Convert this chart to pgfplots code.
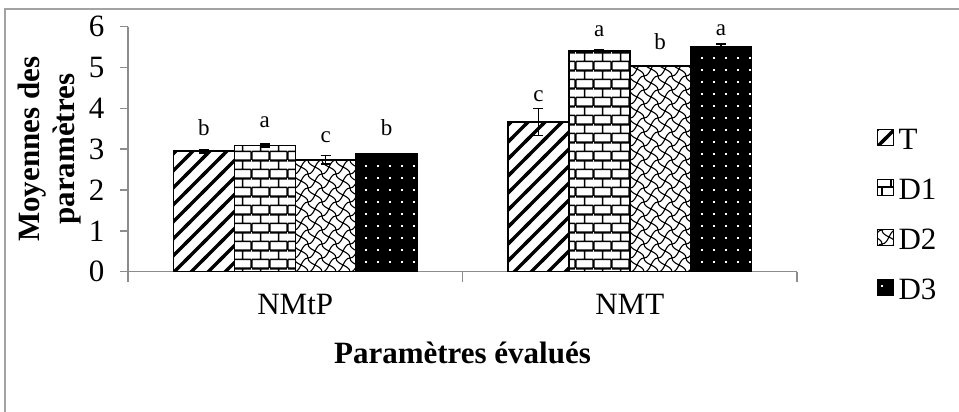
\documentclass[border=0pt]{standalone}
\usepackage{pgfplots}
\usepackage{pgfplotstable}
\pgfplotsset{compat=1.18}
\usepackage{fontspec}
\setmainfont{Liberation Serif}
\usetikzlibrary{patterns}
\definecolor{axgray}{HTML}{8C8C8C}

\pgfdeclarepatternformonly{mytstripes}{\pgfqpoint{-1bp}{-1bp}}{\pgfqpoint{18bp}{18bp}}{\pgfqpoint{17bp}{17bp}}{%
  \pgfsetlinewidth{3.5bp}%
  \pgfpathmoveto{\pgfqpoint{-2bp}{-2bp}}\pgfpathlineto{\pgfqpoint{19bp}{19bp}}%
  \pgfpathmoveto{\pgfqpoint{-4bp}{13bp}}\pgfpathlineto{\pgfqpoint{4bp}{21bp}}%
  \pgfpathmoveto{\pgfqpoint{13bp}{-4bp}}\pgfpathlineto{\pgfqpoint{21bp}{4bp}}%
  \pgfusepath{stroke}}

\pgfdeclarepatternformonly{mybricks}{\pgfqpoint{0bp}{0bp}}{\pgfqpoint{18bp}{18bp}}{\pgfqpoint{18bp}{18bp}}{%
  \pgfsetlinewidth{1.5bp}%
  \pgfpathmoveto{\pgfqpoint{0bp}{0bp}}\pgfpathlineto{\pgfqpoint{18bp}{0bp}}%
  \pgfpathmoveto{\pgfqpoint{0bp}{9bp}}\pgfpathlineto{\pgfqpoint{18bp}{9bp}}%
  \pgfpathmoveto{\pgfqpoint{0bp}{18bp}}\pgfpathlineto{\pgfqpoint{18bp}{18bp}}%
  \pgfpathmoveto{\pgfqpoint{0bp}{0bp}}\pgfpathlineto{\pgfqpoint{0bp}{9bp}}%
  \pgfpathmoveto{\pgfqpoint{18bp}{0bp}}\pgfpathlineto{\pgfqpoint{18bp}{9bp}}%
  \pgfpathmoveto{\pgfqpoint{9bp}{9bp}}\pgfpathlineto{\pgfqpoint{9bp}{18bp}}%
  \pgfusepath{stroke}}

\pgfdeclarepatternformonly{mywaves}{\pgfqpoint{-1bp}{-1bp}}{\pgfqpoint{15bp}{15bp}}{\pgfqpoint{14bp}{14bp}}{%
  \pgfsetlinewidth{1.1bp}%
  \pgfpathmoveto{\pgfqpoint{0bp}{0bp}}\pgfpathcurveto{\pgfqpoint{7bp}{0bp}}{\pgfqpoint{7bp}{14bp}}{\pgfqpoint{14bp}{14bp}}%
  \pgfpathmoveto{\pgfqpoint{0bp}{14bp}}\pgfpathcurveto{\pgfqpoint{0bp}{7bp}}{\pgfqpoint{14bp}{7bp}}{\pgfqpoint{14bp}{0bp}}%
  \pgfusepath{stroke}}

\pgfdeclarepatterninherentlycolored{mydotsblack}{\pgfqpoint{-0.5bp}{-0.5bp}}{\pgfqpoint{12.5bp}{12.5bp}}{\pgfqpoint{12bp}{12bp}}{%
  \pgfsetfillcolor{black}%
  \pgfpathrectangle{\pgfqpoint{-0.5bp}{-0.5bp}}{\pgfqpoint{13bp}{13bp}}\pgfusepath{fill}%
  \pgfsetfillcolor{white}%
  \pgfpathrectangle{\pgfqpoint{5bp}{5bp}}{\pgfqpoint{2bp}{2bp}}\pgfusepath{fill}}

% x y error letter letter-shift(bp)
\pgfplotstableread{
x y e l s
0 2.95 0.04 b 16
1 3.67 0.33 c 20
}\dataT
\pgfplotstableread{
x y e l s
0 3.09 0.04 a 18
1 5.41 0.02 a 14
}\dataDa
\pgfplotstableread{
x y e l s
0 2.74 0.10 c 17
1 5.04 0.01 b 16
}\dataDb
\pgfplotstableread{
x y e l s
0 2.88 0.02 b 19
1 5.50 0.08 a 12
}\dataDc

\begin{document}
\begin{tikzpicture}
\useasboundingbox (0,0) rectangle (959bp,412bp);
\draw[axgray!80, line width=1.5bp] (5bp,0) -- (5bp,403bp) -- (959bp,403bp);
\begin{axis}[
  at={(128bp,140.3bp)}, anchor=south west,
  scale only axis, width=669bp, height=245bp,
  xmin=-0.5, xmax=1.5, ymin=0, ymax=6,
  ybar=0pt, bar width=0.182,
  axis lines*=left,
  axis line style={draw=axgray, line width=1.5bp},
  xtick={0,1}, xticklabels={NMtP,NMT},
  major x tick style={draw=none},
  minor xtick={-0.5,0.5,1.5},
  ytick={0,1,2,3,4,5,6},
  tick align=outside,
  major tick length=8bp, minor tick length=10bp,
  tick style={draw=axgray, line width=1.5bp},
  /pgf/number format/assume math mode=true,
  ticklabel style={font=\fontsize{31bp}{37bp}\selectfont, text=black},
  yticklabel style={xshift=-12bp},
  xticklabel style={yshift=-11bp},
  clip=false,
  ylabel={Moyennes des\\paramètres},
  ylabel style={font=\bfseries\fontsize{31bp}{35bp}\selectfont, align=center,
    at={(axis description cs:-0.117,0.5)}, anchor=center},
  xlabel={Paramètres évalués},
  xlabel style={font=\bfseries\fontsize{31bp}{37bp}\selectfont,
    at={(axis description cs:0.5,0)}, anchor=base, yshift=-92bp},
  point meta=explicit symbolic,
  nodes near coords,
  visualization depends on={\thisrow{s}\as\lsh},
  every node near coord/.append style={font=\fontsize{23bp}{27bp}\selectfont, anchor=base, inner sep=0pt, yshift=\lsh*1bp, text=black},
  error bars/y dir=both, error bars/y explicit,
  error bars/error bar style={line width=1.5bp, black},
  error bars/error mark options={rotate=90, mark size=5bp, line width=1.5bp, black},
  legend style={at={(axis description cs:1.1196,0.238)}, anchor=west, draw=none, fill=none,
    inner sep=0pt, outer sep=0pt, row sep=28bp,
    font=\fontsize{31bp}{37bp}\selectfont,
    nodes={inner sep=0pt, text height=22bp, text depth=0bp}},
  legend cell align=left,
  legend image code/.code={\path (0bp,0bp) (20bp,0bp); \draw[#1, line width=1.2bp] (0bp,-7bp) rectangle (16bp,9bp);},
]
\addplot[draw=black, line width=1.5bp, pattern=mytstripes, pattern color=black]
  table[x=x, y=y, y error=e, meta=l] {\dataT};
\addplot[draw=black, line width=1.5bp, pattern=mybricks, pattern color=black]
  table[x=x, y=y, y error=e, meta=l] {\dataDa};
\addplot[draw=black, line width=1.5bp, pattern=mywaves, pattern color=black]
  table[x=x, y=y, y error=e, meta=l] {\dataDb};
\addplot[draw=black, line width=1.5bp, pattern=mydotsblack]
  table[x=x, y=y, y error=e, meta=l] {\dataDc};
\legend{T,D1,D2,D3}
\end{axis}
\end{tikzpicture}
\end{document}
